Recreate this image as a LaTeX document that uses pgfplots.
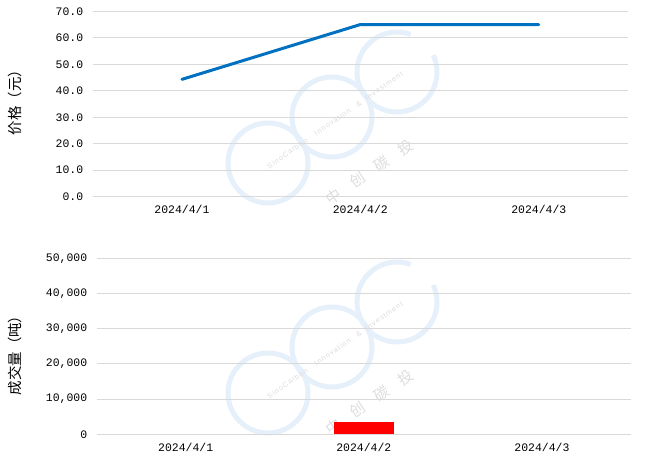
\documentclass[border=0pt]{standalone}
\usepackage{fontspec}
\usepackage{pgfplots}
\pgfplotsset{compat=1.18}
\setmainfont{Liberation Mono}
\newfontfamily\cjk{Noto Sans CJK SC}
\newfontfamily\wmfont[LetterSpace=12]{Liberation Sans}
\definecolor{priceblue}{HTML}{0070C0}
\definecolor{gridgray}{HTML}{D9D9D9}
\definecolor{wmblue}{HTML}{E5F0FA}
\definecolor{wmgray}{HTML}{DDDDDD}

\pgfplotsset{
  panel/.style={
    scale only axis, anchor=south west, clip=false,
    axis line style={draw=none}, tick style={draw=none},
    ymajorgrids, grid style={gridgray, line width=0.8bp},
    xmin=-0.5, xmax=2.5, xtick={0,1,2},
    xticklabels={2024/4/1,2024/4/2,2024/4/3},
    ticklabel style={font=\fontsize{11.5}{12}\selectfont},
    /pgf/number format/assume math mode=true,
    yticklabel style={xshift=-6bp},
    xticklabel style={yshift=-5bp},
  }
}

% watermark, in pixel coordinates of the reference (y down), moved down by #1
\newcommand{\watermark}[1]{%
  \begin{scope}[yshift=469bp, yshift=-#1bp, x=1bp, y=-1bp]
    \draw[wmblue, line width=5bp] (268,163) circle (40);
    \draw[wmblue, line width=5bp] (332,117) circle (40);
    \draw[wmblue, line width=5bp] (397,72) ++(-25:40) arc (-25:290:40);
    \node[wmgray, rotate=34, font=\cjk\fontsize{15}{15}\selectfont] at (370,172) {中\hspace{14bp}创\hspace{14bp}碳\hspace{14bp}投};
    \node[wmgray, rotate=35, font=\wmfont\fontsize{7.5}{8}\selectfont] at (335,120) {SinoCarbon\hspace{10bp}Innovation\hspace{8bp}\&\hspace{6bp}Investment};
  \end{scope}}

\begin{document}
\begin{tikzpicture}
\useasboundingbox (0,0) rectangle (663bp,469bp);
\watermark{0}
\watermark{230}

\begin{axis}[panel, at={(92.7bp,272.3bp)}, width=535.3bp, height=185.4bp,
  ymin=0, ymax=70, ytick={0,10,...,70},
  yticklabel style={/pgf/number format/.cd, fixed, fixed zerofill, precision=1}]
  \addplot[priceblue, line width=3bp, line cap=round, line join=round]
    coordinates {(0,44.3) (1,65) (2,65)};
\end{axis}

\begin{axis}[panel, at={(96.7bp,34.7bp)}, width=534.3bp, height=176bp,
  ymin=0, ymax=50000, ytick={0,10000,...,50000}, scaled y ticks=false,
  yticklabel style={/pgf/number format/.cd, fixed, 1000 sep={,}}]
  \addplot[ybar, bar width=60bp, fill=red, draw=none]
    coordinates {(1,3600)};
\end{axis}

\node[rotate=90, font=\cjk\fontsize{14.5}{15}\selectfont] at (15bp,370bp) {价格（元）};
\node[rotate=90, font=\cjk\fontsize{14.5}{15}\selectfont] at (15bp,117bp) {成交量（吨）};
\end{tikzpicture}
\end{document}
